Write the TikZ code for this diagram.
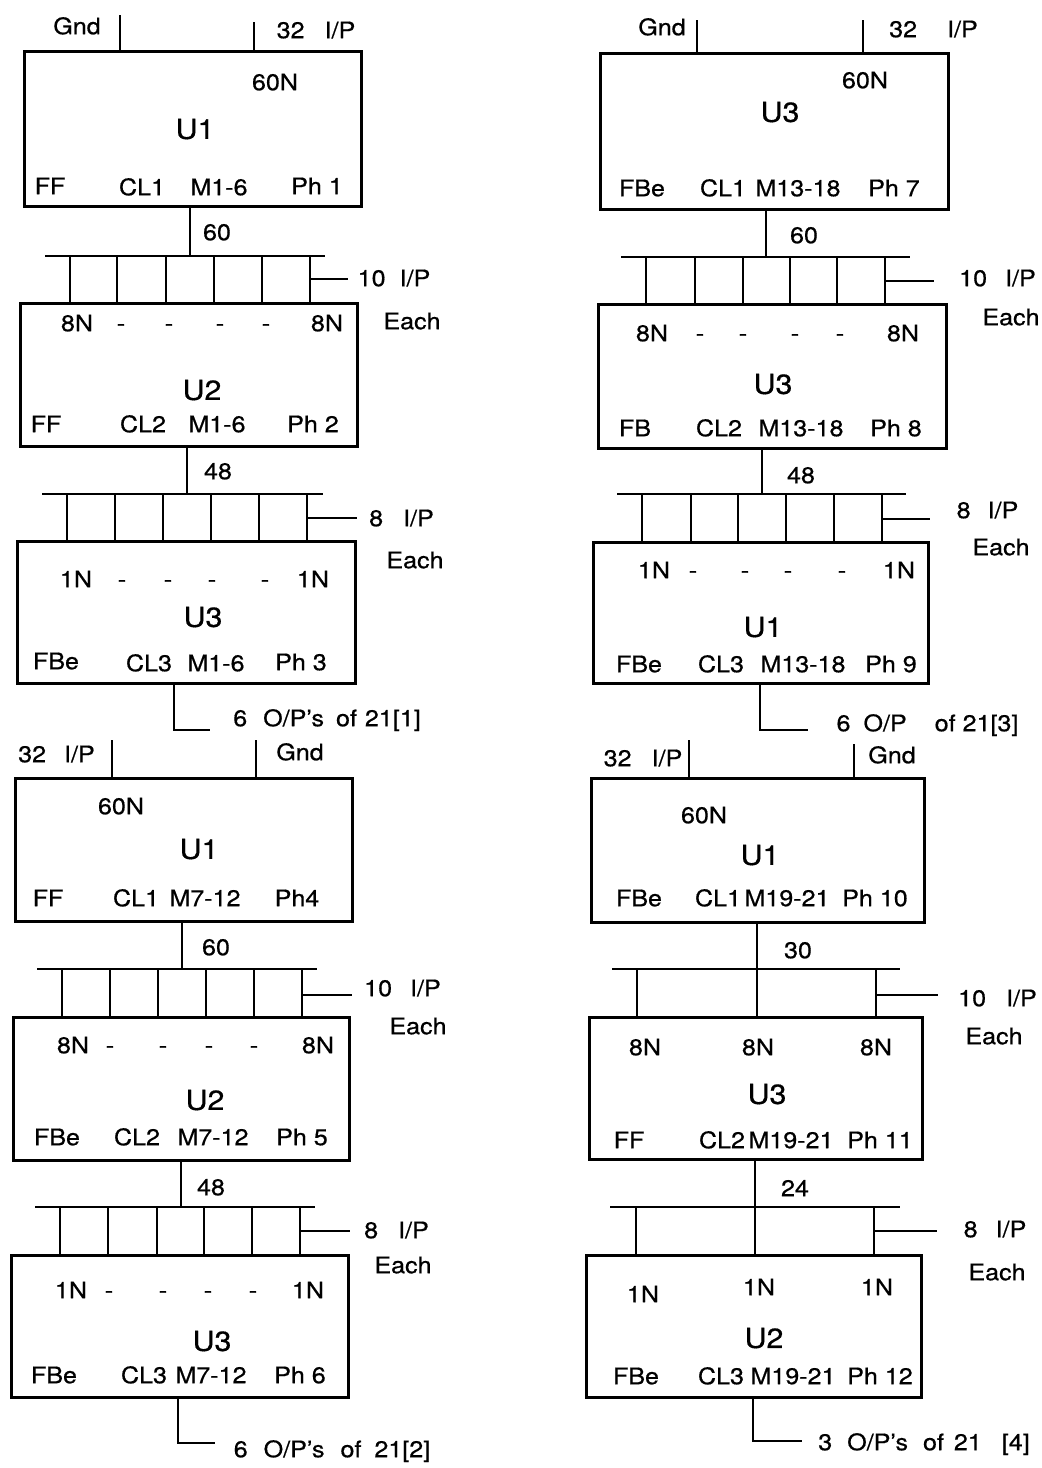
\documentclass[tikz,border=0pt]{standalone}
\usepackage{fontspec}
\setmainfont{TeX Gyre Heros}[FakeStretch=1.1,FakeBold=0.6]
\usetikzlibrary{fit}
\newcommand\hgap[1]{\hspace{#1pt}}
\begin{document}
\begin{tikzpicture}[x=0.5pt,y=-0.5pt,
  ln/.style={line width=1.4pt},
  blk/.style={draw,line width=1.5pt,inner sep=0pt},
  lbl/.style={inner sep=0pt,font=\fontsize{11.4}{13}\selectfont,text height=8.2pt,text depth=0pt},
  big/.style={inner sep=0pt,font=\fontsize{13.8}{16}\selectfont,text height=9.9pt,text depth=0pt}]
\fill[white] (0,0) rectangle (1042,1468);
\useasboundingbox (0,0) rectangle (1042,1468);

% ================= Panel 1 (top left) =================
\node[blk, fit={(24,51) (361,206)}] (A1) {};
\node[blk, fit={(20,303) (357,446)}] (A2) {};
\node[blk, fit={(17,541) (355,683)}] (A3) {};
\coordinate (a1g) at (120,15);
\coordinate (a1i) at (254,22);
\draw[ln] (a1g) -- (a1g |- A1.north);
\draw[ln] (a1i) -- (a1i |- A1.north);
\coordinate (a1b) at (190,256);
\draw[ln] (a1b |- A1.south) -- (a1b);
\draw[ln] (45,256) -- (325,256);
\foreach \x in {70,117,166,214,262,310} \draw[ln] (\x,256) -- (\x,0 |- A2.north);
\coordinate (a2l) at (348,279);
\draw[ln] (310,279) -- (a2l);
\coordinate (a2b) at (187,494);
\draw[ln] (a2b |- A2.south) -- (a2b);
\draw[ln] (42,494) -- (323,494);
\foreach \x in {67,115,163,211,259,307} \draw[ln] (\x,494) -- (\x,0 |- A3.north);
\coordinate (a3l) at (357,518);
\draw[ln] (307,518) -- (a3l);
\coordinate (a3o) at (210,730);
\draw[ln] (174,0 |- A3.south) -- (174,730) -- (a3o);

\node[lbl] at (77,26) {Gnd};
\node[lbl] at (316,30) {32\hgap{10}I/P};
\node[lbl] at (275,82) {60N};
\node[big] at (195,129) {U1};
\node[lbl] at (50,186) {FF};
\node[lbl] at (142,187) {CL1};
\node[lbl] at (219,187) {M1-6};
\node[lbl] at (317,186) {Ph 1};
\node[lbl] at (217,232) {60};
\node[lbl] at (394,278) {10\hgap{7}I/P};
\node[lbl] at (412,321) {Each};
\node[lbl] at (77,323) {8N};
\foreach \x in {121,169,220,266} \node[lbl] at (\x,323) {-};
\node[lbl] at (327,323) {8N};
\node[big] at (202,390) {U2};
\node[lbl] at (46,424) {FF};
\node[lbl] at (143,424) {CL2};
\node[lbl] at (217,424) {M1-6};
\node[lbl] at (313,424) {Ph 2};
\node[lbl] at (218,471) {48};
\node[lbl] at (401.5,518) {8\hgap{10}I/P};
\node[lbl] at (415,560) {Each};
\node[lbl] at (76,579) {1N};
\foreach \x in {122,168,212,265} \node[lbl] at (\x,579) {-};
\node[lbl] at (313,579) {1N};
\node[big] at (203,617) {U3};
\node[lbl] at (56,661) {FBe};
\node[lbl] at (149,663) {CL3};
\node[lbl] at (216,663) {M1-6};
\node[lbl] at (301,662) {Ph 3};
\node[lbl] at (327,718) {6\hgap{8}O/P's\hgap{6}of\hgap{4}21[1]};

% ================= Panel 2 (bottom left) =================
\node[blk, fit={(15,778) (352,921)}] (B1) {};
\node[blk, fit={(13,1017) (349,1160)}] (B2) {};
\node[blk, fit={(11,1255) (348,1397)}] (B3) {};
\coordinate (b1i) at (112,740);
\coordinate (b1g) at (256,740);
\draw[ln] (b1i) -- (b1i |- B1.north);
\draw[ln] (b1g) -- (b1g |- B1.north);
\coordinate (b1b) at (182,969);
\draw[ln] (b1b |- B1.south) -- (b1b);
\draw[ln] (37,969) -- (317,969);
\foreach \x in {62,110,158,206,254,302} \draw[ln] (\x,969) -- (\x,0 |- B2.north);
\coordinate (b2l) at (352,995);
\draw[ln] (302,995) -- (b2l);
\coordinate (b2b) at (181,1207);
\draw[ln] (b2b |- B2.south) -- (b2b);
\draw[ln] (35,1207) -- (315,1207);
\foreach \x in {60,108,157,204,252,300} \draw[ln] (\x,1207) -- (\x,0 |- B3.north);
\coordinate (b3l) at (350,1231);
\draw[ln] (300,1231) -- (b3l);
\coordinate (b3o) at (215,1443);
\draw[ln] (178,0 |- B3.south) -- (178,1443) -- (b3o);

\node[lbl] at (56.5,754) {32\hgap{9}I/P};
\node[lbl] at (300,752) {Gnd};
\node[lbl] at (121,806) {60N};
\node[big] at (199,849) {U1};
\node[lbl] at (48,898) {FF};
\node[lbl] at (136,898) {CL1};
\node[lbl] at (205,898) {M7-12};
\node[lbl] at (297,898) {Ph4};
\node[lbl] at (216,947) {60};
\node[lbl] at (402.5,988) {10\hgap{9}I/P};
\node[lbl] at (418,1026) {Each};
\node[lbl] at (73,1045) {8N};
\foreach \x in {110,163,209,254} \node[lbl] at (\x,1045) {-};
\node[lbl] at (318,1045) {8N};
\node[big] at (205,1100) {U2};
\node[lbl] at (57,1137) {FBe};
\node[lbl] at (137,1137) {CL2};
\node[lbl] at (213,1137) {M7-12};
\node[lbl] at (302,1137) {Ph 5};
\node[lbl] at (211,1187) {48};
\node[lbl] at (396.5,1230) {8\hgap{10}I/P};
\node[lbl] at (403,1265) {Each};
\node[lbl] at (71,1290) {1N};
\foreach \x in {109,163,208,253} \node[lbl] at (\x,1290) {-};
\node[lbl] at (308,1290) {1N};
\node[big] at (212,1341) {U3};
\node[lbl] at (54,1375) {FBe};
\node[lbl] at (144,1375) {CL3};
\node[lbl] at (211,1375) {M7-12};
\node[lbl] at (300,1375) {Ph 6};
\node[lbl] at (332,1449) {6\hgap{8}O/P's\hgap{8}of\hgap{6.5}21[2]};

% ================= Panel 3 (top right) =================
\node[blk, fit={(600,53) (948,209)}] (C1) {};
\node[blk, fit={(598,304) (946,448)}] (C2) {};
\node[blk, fit={(593,542) (928,683)}] (C3) {};
\coordinate (c1g) at (697,20);
\coordinate (c1i) at (863,20);
\draw[ln] (c1g) -- (c1g |- C1.north);
\draw[ln] (c1i) -- (c1i |- C1.north);
\coordinate (c1b) at (766,257);
\draw[ln] (c1b |- C1.south) -- (c1b);
\draw[ln] (621,257) -- (910,257);
\foreach \x in {646,695,743,790,837,885} \draw[ln] (\x,257) -- (\x,0 |- C2.north);
\coordinate (c2l) at (934,281);
\draw[ln] (885,281) -- (c2l);
\coordinate (c2b) at (762,494);
\draw[ln] (c2b |- C2.south) -- (c2b);
\draw[ln] (617,494) -- (906,494);
\foreach \x in {642,691,738,786,834,882} \draw[ln] (\x,494) -- (\x,0 |- C3.north);
\coordinate (c3l) at (930,519);
\draw[ln] (882,519) -- (c3l);
\coordinate (c3o) at (808,730);
\draw[ln] (760,0 |- C3.south) -- (760,730) -- (c3o);

\node[lbl] at (662,27) {Gnd};
\node[lbl] at (933.5,29) {32\hgap{15}I/P};
\node[lbl] at (865,80) {60N};
\node[big] at (780,112) {U3};
\node[lbl] at (642,188) {FBe};
\node[lbl] at (723,188) {CL1};
\node[lbl] at (798,188) {M13-18};
\node[lbl] at (894,188) {Ph 7};
\node[lbl] at (804,235) {60};
\node[lbl] at (997.5,278) {10\hgap{9}I/P};
\node[lbl] at (1011,317) {Each};
\node[lbl] at (652,333) {8N};
\foreach \x in {700,743,795,840} \node[lbl] at (\x,333) {-};
\node[lbl] at (903,333) {8N};
\node[big] at (773,384) {U3};
\node[lbl] at (635,428) {FB};
\node[lbl] at (719,428) {CL2};
\node[lbl] at (801,428) {M13-18};
\node[lbl] at (896,428) {Ph 8};
\node[lbl] at (801,475) {48};
\node[lbl] at (987.5,510) {8\hgap{8.5}I/P};
\node[lbl] at (1001,547) {Each};
\node[lbl] at (654,570) {1N};
\foreach \x in {693,745,788,842} \node[lbl] at (\x,570) {-};
\node[lbl] at (899,570) {1N};
\node[big] at (763,627) {U1};
\node[lbl] at (639,664) {FBe};
\node[lbl] at (721,664) {CL3};
\node[lbl] at (803,664) {M13-18};
\node[lbl] at (891,664) {Ph 9};
\node[lbl] at (927.5,723) {6\hgap{6.5}O/P\hgap{14}of\hgap{3.5}21[3]};

% ================= Panel 4 (bottom right) =================
\node[blk, fit={(591,778) (924,922)}] (D1) {};
\node[blk, fit={(589,1017) (922,1159)}] (D2) {};
\node[blk, fit={(586,1255) (921,1397)}] (D3) {};
\coordinate (d1i) at (689,740);
\coordinate (d1g) at (854,744);
\draw[ln] (d1i) -- (d1i |- D1.north);
\draw[ln] (d1g) -- (d1g |- D1.north);
\coordinate (d1b) at (757,969);
\draw[ln] (d1b |- D1.south) -- (d1b);
\draw[ln] (612,969) -- (900,969);
\foreach \x in {637,757,876} \draw[ln] (\x,969) -- (\x,0 |- D2.north);
\coordinate (d2l) at (938,995);
\draw[ln] (876,995) -- (d2l);
\coordinate (d2b) at (755,1207);
\draw[ln] (d2b |- D2.south) -- (d2b);
\draw[ln] (610,1207) -- (900,1207);
\foreach \x in {636,755,874} \draw[ln] (\x,1207) -- (\x,0 |- D3.north);
\coordinate (d3l) at (937,1231);
\draw[ln] (874,1231) -- (d3l);
\coordinate (d3o) at (802,1441);
\draw[ln] (753,0 |- D3.south) -- (753,1441) -- (d3o);

\node[lbl] at (643,758) {32\hgap{10}I/P};
\node[lbl] at (892,755) {Gnd};
\node[lbl] at (704,815) {60N};
\node[big] at (760,855) {U1};
\node[lbl] at (639,898) {FBe};
\node[lbl] at (718,898) {CL1};
\node[lbl] at (787,898) {M19-21};
\node[lbl] at (875,898) {Ph 10};
\node[lbl] at (798,950) {30};
\node[lbl] at (997.5,998) {10\hgap{10}I/P};
\node[lbl] at (994,1036) {Each};
\node[lbl] at (645,1047) {8N};
\node[lbl] at (758,1047) {8N};
\node[lbl] at (876,1047) {8N};
\node[big] at (767,1094) {U3};
\node[lbl] at (629,1140) {FF};
\node[lbl] at (722,1140) {CL2};
\node[lbl] at (791,1140) {M19-21};
\node[lbl] at (880,1140) {Ph 11};
\node[lbl] at (795,1188) {24};
\node[lbl] at (995,1229) {8\hgap{9}I/P};
\node[lbl] at (997,1272) {Each};
\node[lbl] at (643,1294) {1N};
\node[lbl] at (759,1287) {1N};
\node[lbl] at (877,1287) {1N};
\node[big] at (764,1338) {U2};
\node[lbl] at (636,1376) {FBe};
\node[lbl] at (721,1376) {CL3};
\node[lbl] at (793,1376) {M19-21};
\node[lbl] at (880,1376) {Ph 12};
\node[lbl] at (924,1442) {3\hgap{7.5}O/P's\hgap{7.5}of\hgap{5}21\hgap{10}[4]};
\end{tikzpicture}
\end{document}
